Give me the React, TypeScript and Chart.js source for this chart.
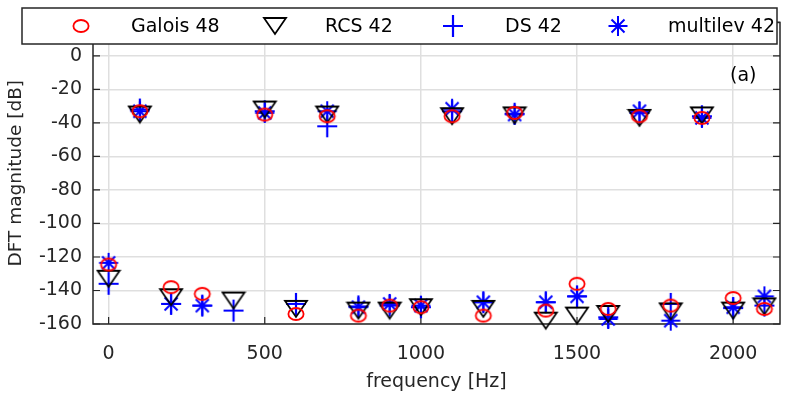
import React, { useEffect, useRef } from 'react';
import { Chart, registerables } from 'chart.js';

Chart.register(...registerables);

// ---- data ----
const freqs = [0, 100, 200, 300, 400, 500, 600, 700, 800, 900, 1000, 1100, 1200, 1300, 1400, 1500, 1600, 1700, 1800, 1900, 2000, 2100];
const galois48 = [-124.5, -33, -138, -142, null, -35, -154, -36, -155, -149, -150, -36, -155, -34, -152, -136, -151, -36, -149, -37, -144.5, -151];
const rcs42 = [-133, -35, -144, null, -146, -32, -151, -35, -152, -152, -150, -36, -151, -35.5, -158, -155, -154, -37, -152.5, -35.5, -152, -149.5];
const ds42 = [-136, -32, -148, -149, -152, -33, -148, -42, -149.5, -149, -150, -33, -147, -34.5, -147, -143.5, -156, -34, -148, -36, -150.5, -149];
const multilev42 = [-123.5, -33, -148, -149, null, -34, null, -33, -150, -148, -149, -31.5, -147, -35, -147, -143.5, -157, -33, -158, -37, -150, -143.5];

const seriesLabels = ['Galois 48', 'RCS 42', 'DS 42', 'multilev 42'];
const xTickValues = [0, 500, 1000, 1500, 2000];
const yTickValues = [-160, -140, -120, -100, -80, -60, -40, -20, 0, 20];
const xLabel = 'frequency [Hz]';
const yLabel = 'DFT magnitude [dB]';
const panelTag = '(a)';

const FONT = 'DejaVu Sans';
const TEXT = '#262626';
const FS = 19;

type Kind = 'circle' | 'triangleDown' | 'plus' | 'star';

function makeMarker(kind: Kind, color: string): HTMLCanvasElement {
  const c = document.createElement('canvas');
  const ctx = c.getContext('2d')!;
  if (kind === 'circle') {
    c.width = 20; c.height = 16;
    ctx.strokeStyle = color; ctx.lineWidth = 1.8;
    ctx.beginPath();
    ctx.ellipse(10, 8, 7.6, 6, 0, 0, Math.PI * 2);
    ctx.stroke();
  } else if (kind === 'triangleDown') {
    c.width = 26; c.height = 20;
    ctx.strokeStyle = color; ctx.lineWidth = 1.8; ctx.lineJoin = 'miter';
    ctx.beginPath();
    ctx.moveTo(2, 2); ctx.lineTo(24, 2); ctx.lineTo(13, 18); ctx.closePath();
    ctx.stroke();
  } else if (kind === 'plus') {
    c.width = 24; c.height = 24;
    ctx.strokeStyle = color; ctx.lineWidth = 2.2;
    ctx.beginPath();
    ctx.moveTo(2, 12); ctx.lineTo(22, 12);
    ctx.moveTo(12, 1); ctx.lineTo(12, 23);
    ctx.stroke();
  } else {
    c.width = 24; c.height = 24;
    ctx.strokeStyle = color; ctx.lineWidth = 2;
    ctx.beginPath();
    ctx.moveTo(2.5, 12); ctx.lineTo(21.5, 12);
    ctx.moveTo(12, 2); ctx.lineTo(12, 22);
    ctx.moveTo(5.5, 5.5); ctx.lineTo(18.5, 18.5);
    ctx.moveTo(18.5, 5.5); ctx.lineTo(5.5, 18.5);
    ctx.stroke();
  }
  return c;
}

function toPoints(vals: (number | null)[]) {
  const out: { x: number; y: number }[] = [];
  vals.forEach((v, i) => { if (v !== null) out.push({ x: freqs[i], y: v }); });
  return out;
}

export default function App() {
  const ref = useRef<HTMLCanvasElement | null>(null);

  useEffect(() => {
    if (!ref.current) return;
    const markers = [
      makeMarker('circle', '#ff0000'),
      makeMarker('triangleDown', '#000000'),
      makeMarker('plus', '#0000ff'),
      makeMarker('star', '#0000ff'),
    ];
    const series = [galois48, rcs42, ds42, multilev42];

    const framePlugin = {
      id: 'frame',
      beforeDatasetsDraw(chart: any) {
        const { ctx, chartArea: a, scales } = chart;
        ctx.save();
        ctx.strokeStyle = TEXT;
        ctx.lineWidth = 1.5;
        ctx.strokeRect(a.left, a.top, a.right - a.left, a.bottom - a.top);
        ctx.lineWidth = 1.2;
        ctx.beginPath();
        const tl = 7;
        xTickValues.forEach((v) => {
          const x = scales.x.getPixelForValue(v);
          ctx.moveTo(x, a.bottom); ctx.lineTo(x, a.bottom - tl);
          ctx.moveTo(x, a.top); ctx.lineTo(x, a.top + tl);
        });
        yTickValues.forEach((v) => {
          const y = scales.y.getPixelForValue(v);
          ctx.moveTo(a.left, y); ctx.lineTo(a.left + tl, y);
          ctx.moveTo(a.right, y); ctx.lineTo(a.right - tl, y);
        });
        ctx.stroke();
        ctx.restore();
      },
      afterDraw(chart: any) {
        const { ctx } = chart;
        ctx.save();
        // panel tag
        ctx.fillStyle = '#000';
        ctx.font = `${FS}px "${FONT}"`;
        ctx.textAlign = 'left';
        ctx.textBaseline = 'middle';
        ctx.fillText(panelTag, 730, 76);
        // legend box
        ctx.fillStyle = '#ffffff';
        ctx.fillRect(22, 8, 755, 36);
        ctx.strokeStyle = TEXT;
        ctx.lineWidth = 1.5;
        ctx.strokeRect(22, 8, 755, 36);
        const markerX = [81, 275, 453, 618];
        const textX = [131, 325, 505, 668];
        const cy = 26;
        markers.forEach((m, i) => {
          ctx.drawImage(m, markerX[i] - m.width / 2, cy - m.height / 2);
          ctx.fillStyle = '#000';
          ctx.fillText(seriesLabels[i], textX[i], cy + 1);
        });
        ctx.restore();
      },
    };

    const tickFont = { family: FONT, size: FS };

    const chart = new Chart(ref.current, {
      type: 'scatter',
      data: {
        datasets: series.map((s, i) => ({
          label: seriesLabels[i],
          data: toPoints(s),
          pointStyle: markers[i] as any,
          pointRadius: 8,
          showLine: false,
          clip: false as any,
        })),
      },
      options: {
        animation: false,
        responsive: false,
        devicePixelRatio: 1,
        layout: { padding: { top: 15, right: 4, left: 0, bottom: 0 } },
        plugins: { legend: { display: false }, tooltip: { enabled: false } },
        scales: {
          x: {
            type: 'linear',
            min: -50,
            max: 2150,
            afterBuildTicks: (s: any) => { s.ticks = xTickValues.map((v) => ({ value: v })); },
            afterFit: (s: any) => { s.height = 71; },
            grid: { color: '#dfdfdf', lineWidth: 1.5, drawTicks: false },
            border: { display: false },
            ticks: { font: tickFont, color: TEXT, padding: 19, maxRotation: 0, autoSkip: false, callback: (v: any) => String(v) },
            title: { display: true, text: xLabel, font: tickFont, color: TEXT, padding: { top: 0, bottom: 2 } },
          },
          y: {
            type: 'linear',
            min: -160,
            max: 20,
            afterBuildTicks: (s: any) => { s.ticks = yTickValues.map((v) => ({ value: v })); },
            afterFit: (s: any) => { s.width = 93; },
            grid: { color: '#dfdfdf', lineWidth: 1.5, drawTicks: false },
            border: { display: false },
            ticks: { font: tickFont, color: TEXT, padding: 11, autoSkip: false, callback: (v: any) => String(v) },
            title: { display: true, text: yLabel, font: { family: FONT, size: 18.5 }, color: TEXT, padding: { top: 5, bottom: 0 } },
          },
        },
      },
      plugins: [framePlugin],
    });
    return () => chart.destroy();
  }, []);

  return (
    <div style={{ position: 'fixed', left: 0, top: 0, width: 789, height: 395, background: '#fff' }}>
      <canvas ref={ref} width={789} height={395} style={{ display: 'block' }} />
    </div>
  );
}
